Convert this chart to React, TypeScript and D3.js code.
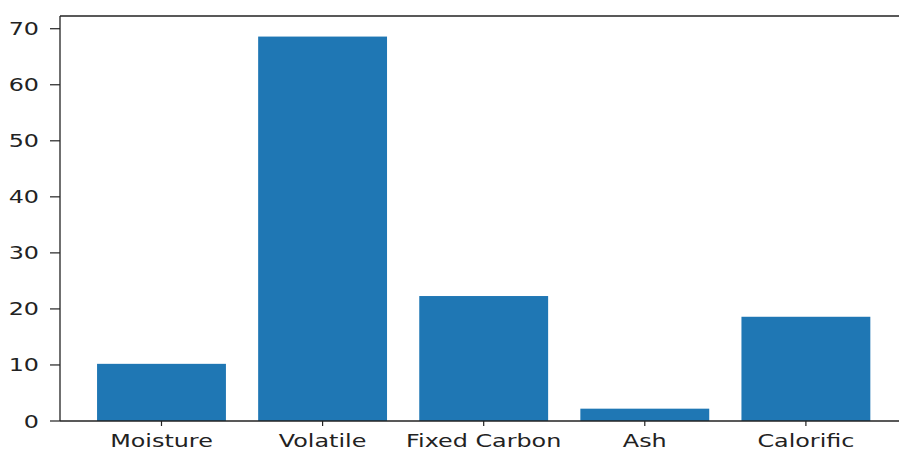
import React from "react";
import * as d3 from "d3";

const categories = ["Moisture", "Volatile", "Fixed Carbon", "Ash", "Calorific"];
const values = [10.2, 68.6, 22.3, 2.2, 18.6];
const yTicks = [0, 10, 20, 30, 40, 50, 60, 70];

const W = 899;
const H = 449;
const left = 60;
const top = 16;
const bottom = 421;
const FONT = "DejaVu Sans, sans-serif";
const FS = 17.8;
const SX = 1.34;

export default function App() {
  const x = d3.scaleLinear().domain([-0.63, 4.6]).range([left, left + 5.23 * 161.1]);
  const y = d3.scaleLinear().domain([0, 72.27]).range([bottom, top]);
  const bw = x(0.4) - x(-0.4);
  const right = x(4.6);

  return (
    <svg
      width={W}
      height={H}
      style={{ position: "absolute", left: 0, top: 0, background: "#fff" }}
    >
      {values.map((v, i) => (
        <rect
          key={categories[i]}
          x={x(i) - bw / 2}
          y={y(v)}
          width={bw}
          height={y(0) - y(v)}
          fill="#1f77b4"
        />
      ))}
      {/* spines */}
      <line x1={left} x2={right} y1={top} y2={top} stroke="#222" strokeWidth={1.3} />
      <line x1={left} x2={right} y1={bottom} y2={bottom} stroke="#222" strokeWidth={1.3} />
      <line x1={left} x2={left} y1={top} y2={bottom} stroke="#222" strokeWidth={1.3} />
      {/* y ticks */}
      {yTicks.map((t) => (
        <g key={t}>
          <line x1={left - 10} x2={left} y1={y(t)} y2={y(t)} stroke="#222" strokeWidth={1.2} />
          <text
            transform={`translate(${left - 21},${y(t) + 6.5}) scale(${SX},1)`}
            textAnchor="end"
            fontFamily={FONT}
            fontSize={FS}
            fill="#222"
          >
            {t}
          </text>
        </g>
      ))}
      {/* x ticks */}
      {categories.map((c, i) => (
        <g key={c}>
          <line x1={x(i)} x2={x(i)} y1={bottom} y2={bottom + 5} stroke="#222" strokeWidth={1.2} />
          <text
            transform={`translate(${x(i)},${bottom + 26}) scale(${SX},1)`}
            textAnchor="middle"
            fontFamily={FONT}
            fontSize={FS}
            fill="#222"
          >
            {c}
          </text>
        </g>
      ))}
    </svg>
  );
}
